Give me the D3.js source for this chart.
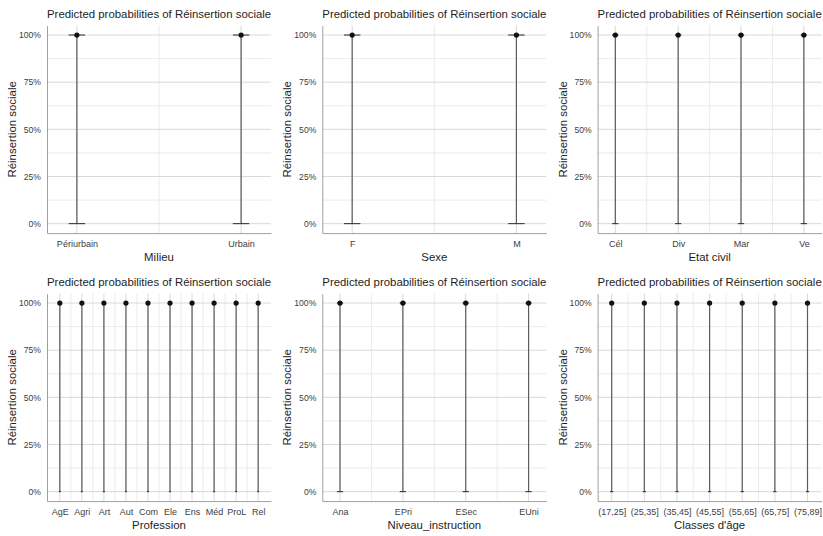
<!DOCTYPE html>
<html>
<head>
<meta charset="utf-8">
<script src="https://cdn.jsdelivr.net/npm/d3@7"></script>
<style>
  body { margin: 0; background: #fff; }
  svg { display: block; font-family: "Liberation Sans", Arial, sans-serif; }
</style>
</head>
<body>
<div id="chart"></div>
<script>
// Predicted probabilities, one panel per predictor
const titleText = 'Predicted probabilities of Réinsertion sociale';
const yTitle = 'Réinsertion sociale';

const milieuLevels = ['Périurbain', 'Urbain'];
const sexeLevels = ['F', 'M'];
const etatCivilLevels = ['Cél', 'Div', 'Mar', 'Ve'];
const professionLevels = ['AgE', 'Agri', 'Art', 'Aut', 'Com', 'Ele', 'Ens', 'Méd', 'ProL', 'Rel'];
const instructionLevels = ['Ana', 'EPri', 'ESec', 'EUni'];
const ageLevels = ['(17,25]', '(25,35]', '(35,45]', '(45,55]', '(55,65]', '(65,75]', '(75,89]'];

// predicted value and confidence bounds for each level (all ~1, CI 0..1)
const milieuPred = [1, 1], milieuLow = [0, 0], milieuHigh = [1, 1];
const sexePred = [1, 1], sexeLow = [0, 0], sexeHigh = [1, 1];
const etatPred = [1, 1, 1, 1], etatLow = [0, 0, 0, 0], etatHigh = [1, 1, 1, 1];
const profPred = [1, 1, 1, 1, 1, 1, 1, 1, 1, 1];
const profLow = [0, 0, 0, 0, 0, 0, 0, 0, 0, 0];
const profHigh = [1, 1, 1, 1, 1, 1, 1, 1, 1, 1];
const instrPred = [1, 1, 1, 1], instrLow = [0, 0, 0, 0], instrHigh = [1, 1, 1, 1];
const agePred = [1, 1, 1, 1, 1, 1, 1], ageLow = [0, 0, 0, 0, 0, 0, 0], ageHigh = [1, 1, 1, 1, 1, 1, 1];

const yTicks = [0, 0.25, 0.5, 0.75, 1];
const yMinor = [0.125, 0.375, 0.625, 0.875];

const panels = [
  { xTitle: 'Milieu', levels: milieuLevels, pred: milieuPred, low: milieuLow, high: milieuHigh },
  { xTitle: 'Sexe', levels: sexeLevels, pred: sexePred, low: sexeLow, high: sexeHigh },
  { xTitle: 'Etat civil', levels: etatCivilLevels, pred: etatPred, low: etatLow, high: etatHigh },
  { xTitle: 'Profession', levels: professionLevels, pred: profPred, low: profLow, high: profHigh },
  { xTitle: 'Niveau_instruction', levels: instructionLevels, pred: instrPred, low: instrLow, high: instrHigh },
  { xTitle: "Classes d'âge", levels: ageLevels, pred: agePred, low: ageLow, high: ageHigh },
];

const W = 823, H = 536;
const svg = d3.select('#chart').append('svg')
  .attr('width', W).attr('height', H);

const plotW = 224, plotH = 207.5;
const colStep = 275.3, rowStep = 268;

panels.forEach((p, i) => {
  const col = i % 3, row = Math.floor(i / 3);
  const left = 47 + col * colStep;
  const top = 25.6 + row * rowStep;
  const n = p.levels.length;

  // continuous x over level index, extended for errorbar width, then 5% expand
  const lo = 1 - 0.12, hi = n + 0.12, pad = (hi - lo) * 0.05;
  const x = d3.scaleLinear().domain([lo - pad, hi + pad]).range([0, plotW]);
  const y = d3.scaleLinear().domain([-0.05, 1.05]).range([plotH, 0]);

  const g = svg.append('g').attr('transform', `translate(${left},${top})`);

  // grid: minor first, then major
  const idx = d3.range(1, n + 1);
  const xMinor = d3.range(1, n).map(v => v + 0.5);

  g.append('g').selectAll('line').data(yMinor).join('line')
    .attr('x1', 0).attr('x2', plotW)
    .attr('y1', d => y(d)).attr('y2', d => y(d))
    .attr('stroke', '#e9e9e9').attr('stroke-width', 0.9);
  g.append('g').selectAll('line').data(xMinor).join('line')
    .attr('y1', 0).attr('y2', plotH)
    .attr('x1', d => x(d)).attr('x2', d => x(d))
    .attr('stroke', '#e9e9e9').attr('stroke-width', 0.9);
  g.append('g').selectAll('line').data(yTicks).join('line')
    .attr('x1', 0).attr('x2', plotW)
    .attr('y1', d => y(d)).attr('y2', d => y(d))
    .attr('stroke', '#d9d9d9').attr('stroke-width', 1);
  g.append('g').selectAll('line').data(idx).join('line')
    .attr('y1', 0).attr('y2', plotH)
    .attr('x1', d => x(d)).attr('x2', d => x(d))
    .attr('stroke', '#d9d9d9').attr('stroke-width', 1);

  // axes
  const yAxis = g.append('g')
    .call(d3.axisLeft(y).tickValues(yTicks).tickFormat(d3.format('.0%')).tickSize(0).tickPadding(6));
  const xAxis = g.append('g').attr('transform', `translate(0,${plotH})`)
    .call(d3.axisBottom(x).tickValues(idx).tickFormat(d => p.levels[d - 1]).tickSize(0).tickPadding(8));
  [yAxis, xAxis].forEach(a => {
    a.select('.domain').attr('stroke', '#a0a0a0').attr('stroke-width', 1);
    a.selectAll('text').attr('fill', '#404040').style('font-family', null);
  });
  yAxis.selectAll('text').attr('font-size', 8.6);
  xAxis.selectAll('text').attr('font-size', 9);

  // error bars
  const hw = 0.05;
  const bars = g.append('g').selectAll('g').data(idx).join('g');
  bars.append('line')
    .attr('x1', d => x(d)).attr('x2', d => x(d))
    .attr('y1', d => y(p.low[d - 1])).attr('y2', d => y(p.high[d - 1]))
    .attr('stroke', '#5c5c5c').attr('stroke-width', 1.2);
  bars.append('line')
    .attr('x1', d => x(d - hw)).attr('x2', d => x(d + hw))
    .attr('y1', d => y(p.low[d - 1])).attr('y2', d => y(p.low[d - 1]))
    .attr('stroke', '#2a2a2a').attr('stroke-width', 1);
  bars.append('line')
    .attr('x1', d => x(d - hw)).attr('x2', d => x(d + hw))
    .attr('y1', d => y(p.high[d - 1])).attr('y2', d => y(p.high[d - 1]))
    .attr('stroke', '#2a2a2a').attr('stroke-width', 1);
  bars.append('circle')
    .attr('cx', d => x(d)).attr('cy', d => y(p.pred[d - 1]))
    .attr('r', 2.6).attr('fill', '#111');

  // titles
  g.append('text')
    .attr('x', 0).attr('y', -7.8)
    .attr('font-size', 11.4).attr('fill', '#1e1e1e')
    .text(titleText);
  g.append('text')
    .attr('x', plotW / 2).attr('y', plotH + 27.5)
    .attr('text-anchor', 'middle')
    .attr('font-size', 11.4).attr('fill', '#1e1e1e')
    .text(p.xTitle);
  g.append('text')
    .attr('transform', `translate(${-31},${plotH / 2}) rotate(-90)`)
    .attr('text-anchor', 'middle')
    .attr('font-size', 11.4).attr('fill', '#1e1e1e')
    .text(yTitle);
});
</script>
</body>
</html>
